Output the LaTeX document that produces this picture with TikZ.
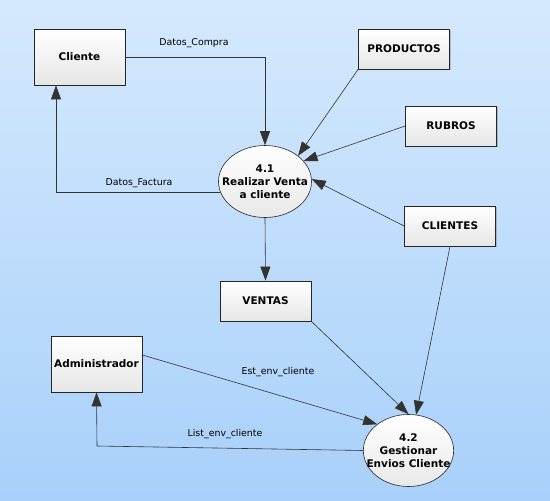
\documentclass[tikz,border=0pt]{standalone}
\usepackage{fontspec}
\setmainfont{DejaVu Sans}
\usetikzlibrary{shapes.geometric,arrows.meta,shadows}
\definecolor{bgtop}{HTML}{D5E9FD}
\definecolor{bgbot}{HTML}{A8D0FA}
\definecolor{boxbot}{HTML}{E6E6E6}
\tikzset{
 entity/.style={draw=black!85,line width=.8pt,top color=white,bottom color=boxbot,
  minimum width=91pt,font=\fontsize{10.5}{12}\selectfont\bfseries,inner sep=0pt,
  drop shadow={shadow xshift=1pt,shadow yshift=-1pt,opacity=.35,fill=black!60}},
 proc/.style={ellipse,draw=black!85,line width=.6pt,top color=white,bottom color=boxbot!90,
  minimum width=90pt,minimum height=72pt,inner xsep=-10pt,inner ysep=0pt,align=center,
  font=\fontsize{10.5}{13}\selectfont\bfseries},
 flow/.style={draw=black!80,line width=.6pt,-{Triangle[length=14pt,width=10pt]}},
 lbl/.style={font=\fontsize{9.4}{11}\selectfont,inner sep=0pt}
}
\begin{document}
\begin{tikzpicture}[x=1pt,y=-1pt]
\shade[top color=bgtop,bottom color=bgbot] (0,0) rectangle (550,501);
\useasboundingbox (0,0) rectangle (550,501);
% entities and stores
\node[entity,minimum height=56pt] (cli) at (79.5,57) {Cliente};
\node[entity,minimum height=40pt] (prod) at (404,49) {PRODUCTOS};
\node[entity,minimum height=40pt] (rub) at (451,126) {RUBROS};
\node[entity,minimum height=40pt] (clis) at (450,226) {CLIENTES};
\node[entity,minimum height=40pt] (ven) at (265.5,301) {VENTAS};
\node[entity,minimum height=56pt] (adm) at (96.5,364) {Administrador};
% processes
\node[proc] (p1) at (265,181.5) {4.1\\Realizar Venta\\a cliente};
\node[proc] (p2) at (408.5,450.5) {4.2\\Gestionar\\Envios Cliente};
% flows
\draw[flow] (cli.east) -| (p1.north);
\draw[flow] (p1.194) -| (cli.south west-|56,0);
\draw[flow] (prod.south west) -- (p1.north east);
\draw[flow] (rub.west) -- (p1.28);
\draw[flow] (clis.west) -- (p1.3);
\draw[flow] (p1.south) -- (ven.north);
\draw[flow] (clis.south) -- (p2.78);
\draw[flow] (ven.south east) -- (p2.north);
\draw[flow] (adm.east|-0,355) -- (p2.140);
\coordinate (bend) at (97,446);
\draw[flow] (p2.west) -- (bend) -- (adm.south);
% labels
\node[lbl] (lcompra) at (194,43) {Datos\_Compra};
\node[lbl] (lfactura) at (139,183) {Datos\_Factura};
\node[lbl] (lest) at (278,372) {Est\_env\_cliente};
\node[lbl] (llist) at (225,434) {List\_env\_cliente};
\end{tikzpicture}
\end{document}
